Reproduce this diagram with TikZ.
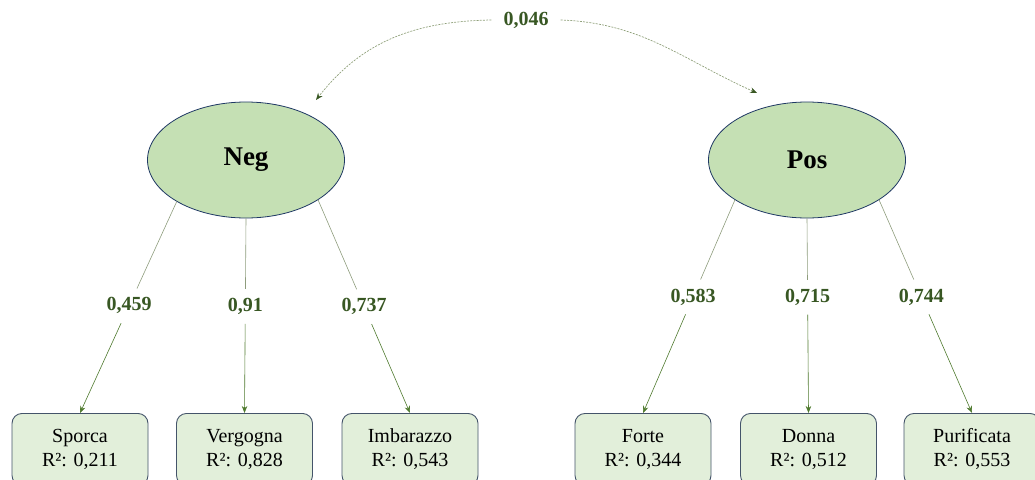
\documentclass[tikz,border=0pt]{standalone}
\usepackage{fontspec}
\setmainfont{Liberation Serif}
\usetikzlibrary{shapes.geometric,arrows.meta,calc}
\definecolor{ellfill}{HTML}{C5E0B4}
\definecolor{ellline}{HTML}{1F3864}
\definecolor{boxfill}{HTML}{E2EFDA}
\definecolor{boxline}{HTML}{44546A}
\definecolor{lblgreen}{HTML}{385723}
\definecolor{upline}{HTML}{8E9C7C}
\definecolor{lowline}{HTML}{4F7A2E}
\definecolor{covline}{HTML}{8FA07A}
\tikzset{
  latent/.style={ellipse, draw=ellline, line width=0.8pt, fill=ellfill, minimum width=197pt, minimum height=116pt, inner sep=0pt, font=\fontsize{27}{32}\selectfont\bfseries},
  indic/.style={draw=boxline, line width=0.9pt, fill=boxfill, rounded corners=10pt, minimum width=136pt, minimum height=72pt, align=center, anchor=north, font=\fontsize{20}{24}\selectfont},
  lbl/.style={fill=white, text=lblgreen, inner xsep=6pt, inner ysep=9pt, font=\fontsize{20}{24}\selectfont\bfseries},
  upseg/.style={draw=upline, line width=0.6pt},
  lowseg/.style={draw=lowline, line width=0.6pt, -{Stealth[length=7pt,width=5.5pt]}},
  covseg/.style={draw=covline, line width=0.7pt, dash pattern=on 2pt off 1.2pt, -{Stealth[length=7pt,width=5.5pt,color=lblgreen]}}
}
\begin{document}
\begin{tikzpicture}[x=1pt,y=-1pt]
\useasboundingbox (0,0) rectangle (1035,479);
% latent variables
\node[latent] (Neg) at (246,160) {Neg};
\node[latent] (Pos) at (807,160) {Pos};
% indicators
\node[indic] (Sporca) at (80,413) {Sporca\\R²: 0,211};
\node[indic] (Vergogna) at (244.5,413) {Vergogna\\R²: 0,828};
\node[indic] (Imbarazzo) at (410,413) {Imbarazzo\\R²: 0,543};
\node[indic] (Forte) at (643,413) {Forte\\R²: 0,344};
\node[indic] (Donna) at (808.5,413) {Donna\\R²: 0,512};
\node[indic] (Purificata) at (972,413) {Purificata\\R²: 0,553};
% loading labels
\node[lbl] (l1) at ($(Neg.211)!0.493!(Sporca.north)$) {0,459};
\node[lbl] (l2) at ($(Neg.south)!0.452!(Vergogna.north)$) {0,91};
\node[lbl] (l3) at ($(Neg.331)!0.501!(Imbarazzo.north)$) {0,737};
\node[lbl] (l4) at ($(Pos.209)!0.455!(Forte.north)$) {0,583};
\node[lbl] (l5) at ($(Pos.south)!0.405!(Donna.north)$) {0,715};
\node[lbl] (l6) at ($(Pos.331)!0.455!(Purificata.north)$) {0,744};
% loadings
\draw[upseg] (Neg.211) -- (l1);
\draw[lowseg] (l1) -- (Sporca.north);
\draw[upseg] (Neg.south) -- (l2);
\draw[lowseg] (l2) -- (Vergogna.north);
\draw[upseg] (Neg.331) -- (l3);
\draw[lowseg] (l3) -- (Imbarazzo.north);
\draw[upseg] (Pos.209) -- (l4);
\draw[lowseg] (l4) -- (Forte.north);
\draw[upseg] (Pos.south) -- (l5);
\draw[lowseg] (l5) -- (Donna.north);
\draw[upseg] (Pos.331) -- (l6);
\draw[lowseg] (l6) -- (Purificata.north);
% covariance
\node[lbl, inner xsep=12pt, inner ysep=4pt] (cov) at (526,20) {0,046};
\coordinate (covL) at (316,100);
\coordinate (covR) at (757,93);
\draw[covseg] (cov.west) to[out=181,in=52] (covL);
\draw[covseg] (cov.east) to[out=-2,in=156] (covR);
\end{tikzpicture}
\end{document}
